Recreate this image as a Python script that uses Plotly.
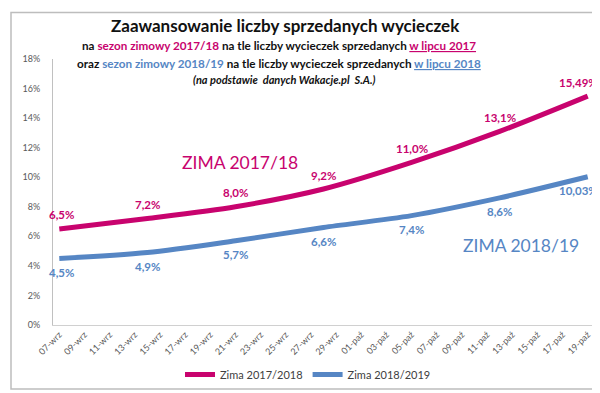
import plotly.graph_objects as go

# ---- data ----
point_dates = ["2017-09-07", "2017-09-14", "2017-09-21", "2017-09-28",
               "2017-10-05", "2017-10-12", "2017-10-19"]
zima_1718 = [6.5, 7.2, 8.0, 9.2, 11.0, 13.1, 15.49]
zima_1819 = [4.5, 4.9, 5.7, 6.6, 7.4, 8.6, 10.03]
tick_dates = ["2017-09-07", "2017-09-09", "2017-09-11", "2017-09-13", "2017-09-15",
              "2017-09-17", "2017-09-19", "2017-09-21", "2017-09-23", "2017-09-25",
              "2017-09-27", "2017-09-29", "2017-10-01", "2017-10-03", "2017-10-05",
              "2017-10-07", "2017-10-09", "2017-10-11", "2017-10-13", "2017-10-15",
              "2017-10-17", "2017-10-19"]
tick_labels = ["07-wrz", "09-wrz", "11-wrz", "13-wrz", "15-wrz", "17-wrz", "19-wrz",
               "21-wrz", "23-wrz", "25-wrz", "27-wrz", "29-wrz", "01-paź", "03-paź",
               "05-paź", "07-paź", "09-paź", "11-paź", "13-paź", "15-paź", "17-paź",
               "19-paź"]
y_ticks = [0, 2, 4, 6, 8, 10, 12, 14, 16, 18]
y_tick_labels = ["0%", "2%", "4%", "6%", "8%", "10%", "12%", "14%", "16%", "18%"]

PINK = "#C8036E"
BLUE = "#5686C4"
FONT = "Lato"

W, H = 600, 393
ML, MR, MT, MB = 45, 14, 51, 68
PW, PH = W - ML - MR, H - MT - MB


def fmt(v):
    s = f"{v:.1f}" if round(v, 1) == v else f"{v:.2f}"
    return s.replace(".", ",") + "%"


def px(x):
    return (x - ML) / PW


def py(y):
    return (H - MB - y) / PH


fig = go.Figure()
fig.add_trace(go.Scatter(
    x=point_dates, y=zima_1718, name="Zima 2017/2018", mode="lines",
    line=dict(color=PINK, width=5, shape="spline", smoothing=0.8),
))
fig.add_trace(go.Scatter(
    x=point_dates, y=zima_1819, name="Zima 2018/2019", mode="lines",
    line=dict(color=BLUE, width=5, shape="spline", smoothing=0.8),
))

annots = [
    dict(x=px(277), y=py(16), text="<b>Zaawansowanie liczby sprzedanych wycieczek</b>",
         font=dict(family=FONT, size=17, color="#111111")),
    dict(x=px(271), y=py(37),
         text=("<b>na <span style='color:%s'>sezon zimowy 2017/18</span> na tle liczby wycieczek "
               "sprzedanych <span style='color:%s;text-decoration:underline'>w lipcu 2017</span></b>") % (PINK, PINK),
         font=dict(family=FONT, size=11.7, color="#111111")),
    dict(x=px(271), y=py(55),
         text=("<b>oraz <span style='color:%s'>sezon zimowy 2018/19</span> na tle liczby wycieczek "
               "sprzedanych <span style='color:%s;text-decoration:underline'>w lipcu 2018</span></b>") % (BLUE, BLUE),
         font=dict(family=FONT, size=11.7, color="#111111")),
    dict(x=px(276), y=py(72), text="<b><i>(na podstawie  danych Wakacje.pl  S.A.)</i></b>",
         font=dict(family=FONT, size=11, color="#111111")),
    dict(x=px(232), y=py(158), text="ZIMA 2017/18", font=dict(family=FONT, size=17.5, color=PINK)),
    dict(x=px(513), y=py(243), text="ZIMA 2018/19", font=dict(family=FONT, size=17.5, color=BLUE)),
]
for a in annots:
    a.update(xref="paper", yref="paper", showarrow=False, xanchor="center", yanchor="middle")

# data labels, placed on the data through the axes
n = len(point_dates)
for series, col, dy in ((zima_1718, PINK, 14), (zima_1819, BLUE, -14)):
    for i, (d, v) in enumerate(zip(point_dates, series)):
        last = i == n - 1
        annots.append(dict(
            x=d, y=v, xref="x", yref="y", text="<b>%s</b>" % fmt(v), showarrow=False,
            xanchor="right" if last else "center", yanchor="middle", yshift=dy,
            xshift=(12 if last else (2 if i == 0 else 0)),
            font=dict(family=FONT, size=11.5, color=col)))

fig.update_layout(
    width=W, height=H,
    margin=dict(l=ML, r=MR, t=MT, b=MB),
    paper_bgcolor="white", plot_bgcolor="white",
    font=dict(family=FONT, color="#595959"),
    annotations=annots,
    showlegend=True,
    legend=dict(orientation="h", x=px(300), y=py(376), xanchor="center", yanchor="middle",
                font=dict(family=FONT, size=11, color="#404040"), itemwidth=30,
                bgcolor="rgba(0,0,0,0)"),
    xaxis=dict(
        type="date", range=["2017-09-06 12:00", "2017-10-19 12:00"],
        tickmode="array", tickvals=tick_dates, ticktext=tick_labels,
        tickangle=-45, tickfont=dict(family=FONT, size=9, color="#595959"),
        showgrid=False, zeroline=False, showline=True, linecolor="#D0D0D0", linewidth=1,
        ticks="", fixedrange=True,
    ),
    yaxis=dict(
        range=[0, 18], tickmode="array", tickvals=y_ticks, ticktext=y_tick_labels,
        tickfont=dict(family=FONT, size=9, color="#595959"),
        showgrid=False, zeroline=False, showline=True, linecolor="#C0C0C0", linewidth=1,
        ticks="", ticklabelstandoff=10, fixedrange=True,
    ),
    shapes=[
        dict(type="rect", xref="paper", yref="paper", x0=px(3), x1=px(594), y0=py(391), y1=py(3),
             line=dict(color="#BDBDBD", width=1.5), layer="below"),
        dict(type="line", xref="paper", yref="paper", x0=px(595.5), x1=px(595.5), y0=py(392), y1=py(5),
             line=dict(color="#D8D8D8", width=2), layer="below"),
    ],
)

fig.write_html("out.html")
